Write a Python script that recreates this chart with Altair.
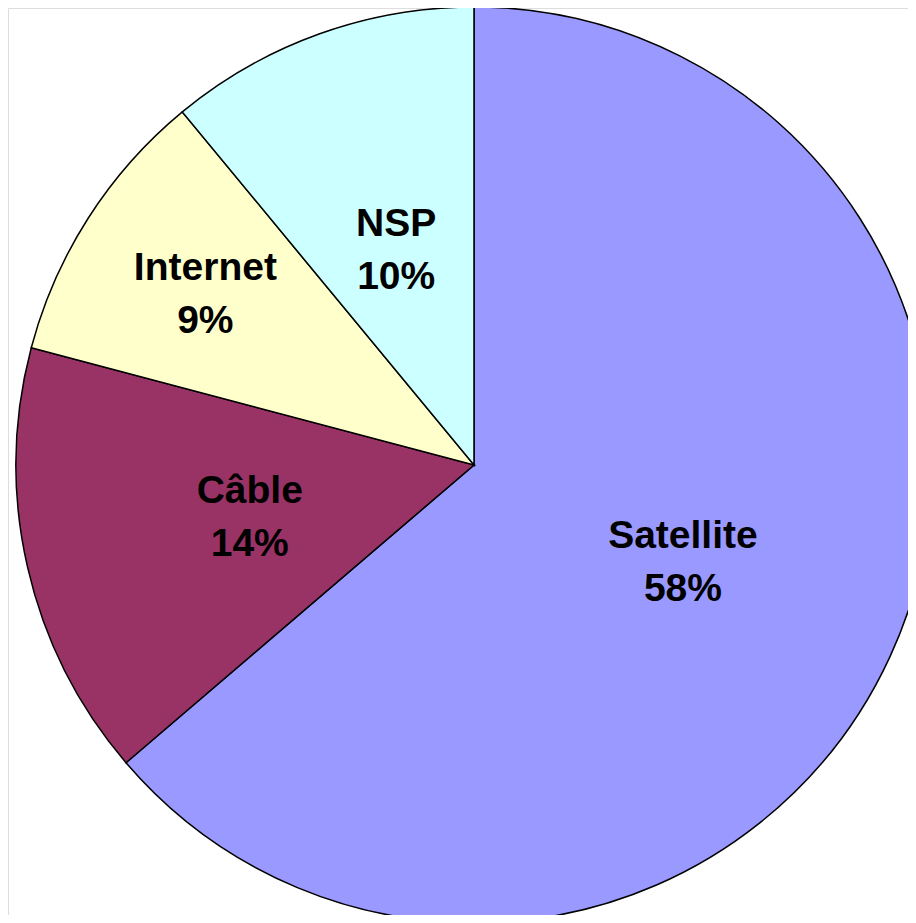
import altair as alt
import pandas as pd

categories = ["Satellite", "Câble", "Internet", "NSP"]
percents = [58, 14, 9, 10]
colors = ["#9999FF", "#993366", "#FFFFCC", "#CCFFFF"]

df = pd.DataFrame({
    "cat": categories,
    "pct": percents,
    "idx": list(range(len(categories))),
})

base = alt.Chart(df).transform_calculate(
    inner_label="datum.cat == 'Internet' ? '' : datum.cat + '\\n' + datum.pct + '%'",
    outer_label="datum.cat == 'Internet' ? datum.cat + '\\n' + datum.pct + '%' : ''",
)

theta = alt.Theta("pct:Q", stack=True)
order = alt.Order("idx:Q", sort="ascending")
cx = alt.value(466)
cy = alt.value(457)

pie = base.mark_arc(outerRadius=458, stroke="black", strokeWidth=1.5).encode(
    theta=theta,
    order=order,
    x=cx, y=cy,
    color=alt.Color("cat:N", scale=alt.Scale(domain=categories, range=colors), legend=None),
)

text_style = dict(
    font="Liberation Sans", fontSize=39, fontWeight="bold", color="black",
    lineBreak="\n", lineHeight=53, align="center", baseline="middle", dy=-25,
)

inner = base.mark_text(radius=230, **text_style).encode(
    theta=theta, order=order, x=cx, y=cy, text="inner_label:N",
)
outer = base.mark_text(radius=319, **text_style).encode(
    theta=theta, order=order, x=cx, y=cy, text="outer_label:N",
)

chart = (pie + inner + outer).properties(
    width=900, height=907, padding=0, autosize=alt.AutoSizeParams(type="none")
).configure_view(stroke="transparent", strokeWidth=0).configure(background="white")

chart.save("out.html", embed_options={"renderer": "svg", "actions": False})
